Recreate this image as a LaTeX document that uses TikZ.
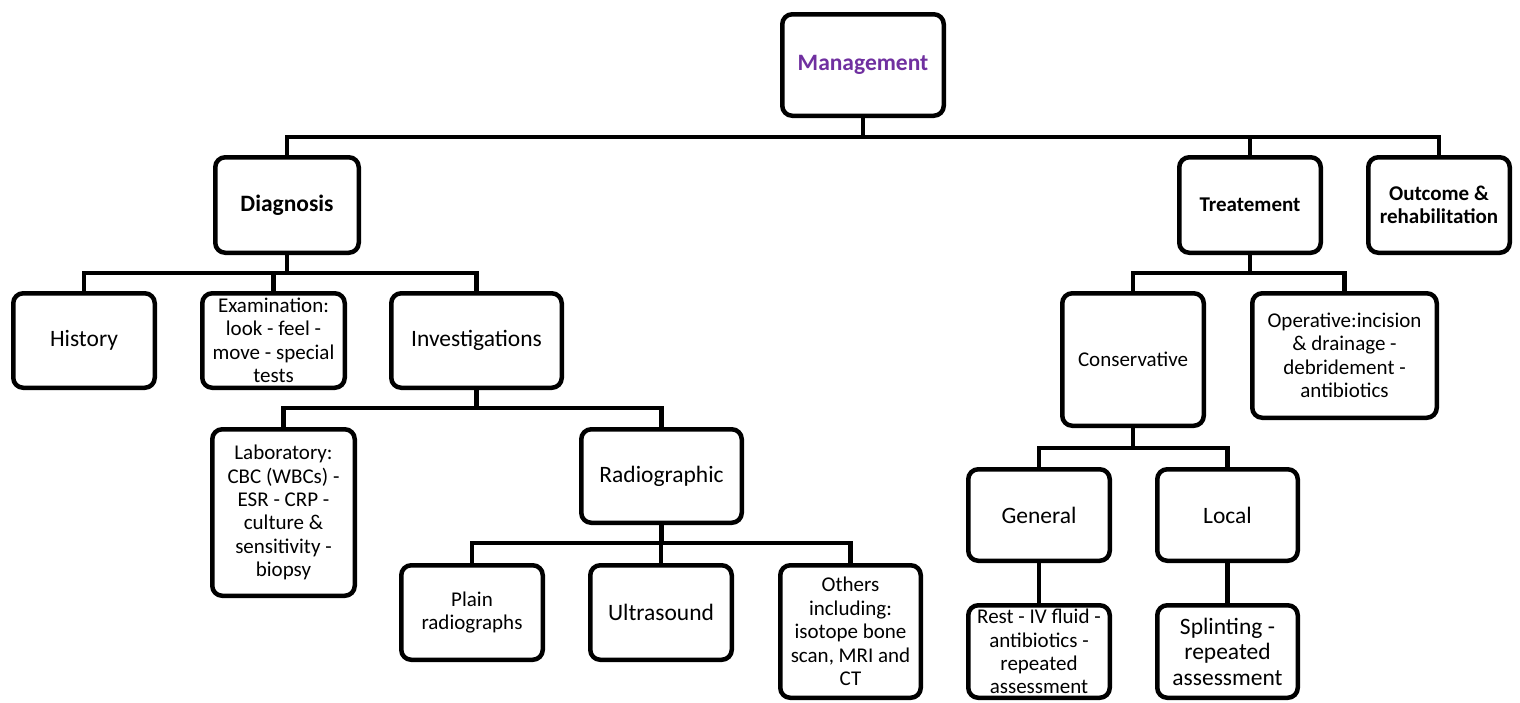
\documentclass[tikz,border=0pt]{standalone}
\usepackage{fontspec}
\setmainfont{Carlito}
\definecolor{mgmtpurple}{HTML}{7030A0}
\newcommand{\smallsz}{\fontsize{21}{23.4}\selectfont}
\newcommand{\bigsz}{\fontsize{23.5}{25.5}\selectfont}
\tikzset{
  box/.style={draw=black, line width=4.5pt, rounded corners=10pt, fill=white,
    align=center, inner sep=0pt, outer sep=0pt, font=\smallsz},
  conn/.style={draw=black, line width=4.5pt, line join=miter},
}
\begin{document}
\begin{tikzpicture}[x=1pt,y=-1pt]
\useasboundingbox (0,0) rectangle (1520,702);
% level 0
\node[box, minimum width=161.5pt, minimum height=101.5pt, font=\bigsz\bfseries, text=mgmtpurple] (mgmt) at (863,65) {Management};
% level 1
\node[box, minimum width=143.5pt, minimum height=95.5pt, font=\bigsz\bfseries] (diag) at (287,205) {Diagnosis};
\node[box, minimum width=141.5pt, minimum height=95.5pt, font=\smallsz\bfseries] (treat) at (1250,205) {Treatement};
\node[box, minimum width=141.5pt, minimum height=95.5pt, font=\smallsz\bfseries] (outc) at (1439,205) {Outcome \&\\rehabilitation};
% diagnosis children
\node[box, minimum width=141.5pt, minimum height=94.5pt, font=\bigsz] (hist) at (84,340.5) {History};
\node[box, minimum width=142.5pt, minimum height=94.5pt] (exam) at (273.5,340.5) {Examination:\\look - feel -\\move - special\\tests};
\node[box, minimum width=170.5pt, minimum height=94.5pt, font=\bigsz] (inv) at (476.5,340.5) {Investigations};
% investigations children
\node[box, minimum width=142.5pt, minimum height=166.5pt] (lab) at (283.5,512.5) {Laboratory:\\CBC (WBCs) -\\ESR - CRP -\\culture \&\\sensitivity -\\biopsy};
\node[box, minimum width=160.5pt, minimum height=93.5pt, font=\bigsz] (radio) at (661.5,476) {Radiographic};
% radiographic children
\node[box, minimum width=141.5pt, minimum height=94.5pt] (plain) at (472,612.5) {Plain\\radiographs};
\node[box, minimum width=141.5pt, minimum height=94.5pt, font=\bigsz] (ultra) at (661,612.5) {Ultrasound};
\node[box, minimum width=140.5pt, minimum height=132.5pt] (others) at (850.5,631.5) {Others\\including:\\isotope bone\\scan, MRI and\\CT};
% treatment children
\node[box, minimum width=141.5pt, minimum height=132.5pt] (cons) at (1133,359.5) {Conservative};
\node[box, minimum width=184.5pt, minimum height=124.5pt] (oper) at (1344.5,355.5) {Operative:incision\\\& drainage -\\debridement -\\antibiotics};
% conservative children
\node[box, minimum width=141.5pt, minimum height=91.5pt, font=\bigsz] (gen) at (1039,515) {General};
\node[box, minimum width=140.5pt, minimum height=91.5pt, font=\bigsz] (local) at (1227.5,515) {Local};
\node[box, minimum width=141.5pt, minimum height=92.5pt] (rest) at (1039,651.5) {Rest - IV fluid -\\antibiotics -\\repeated\\assessment};
\node[box, minimum width=140.5pt, minimum height=92.5pt, font=\bigsz] (splint) at (1227.5,651.5) {Splinting -\\repeated\\assessment};
% bus coordinates
\coordinate (b0) at (863,137);
\coordinate (b1) at (287,273);
\coordinate (b2) at (476.5,408);
\coordinate (b3) at (661.5,543);
\coordinate (b4) at (1250,273);
\coordinate (b5) at (1133,448);
% connectors
\draw[conn] (mgmt.south) -- (b0);
\draw[conn] (b0) -| (diag.north);
\draw[conn] (b0) -| (treat.north);
\draw[conn] (b0) -| (outc.north);
\draw[conn] (diag.south) -- (b1);
\draw[conn] (b1) -| (hist.north);
\draw[conn] (b1) -| (exam.north);
\draw[conn] (b1) -| (inv.north);
\draw[conn] (inv.south) -- (b2);
\draw[conn] (b2) -| (lab.north);
\draw[conn] (b2) -| (radio.north);
\draw[conn] (radio.south) -- (b3);
\draw[conn] (b3) -| (plain.north);
\draw[conn] (b3) -| (ultra.north);
\draw[conn] (b3) -| (others.north);
\draw[conn] (treat.south) -- (b4);
\draw[conn] (b4) -| (cons.north);
\draw[conn] (b4) -| (oper.north);
\draw[conn] (cons.south) -- (b5);
\draw[conn] (b5) -| (gen.north);
\draw[conn] (b5) -| (local.north);
\draw[conn] (gen.south) -- (rest.north);
\draw[conn] (local.south) -- (splint.north);
\end{tikzpicture}
\end{document}
